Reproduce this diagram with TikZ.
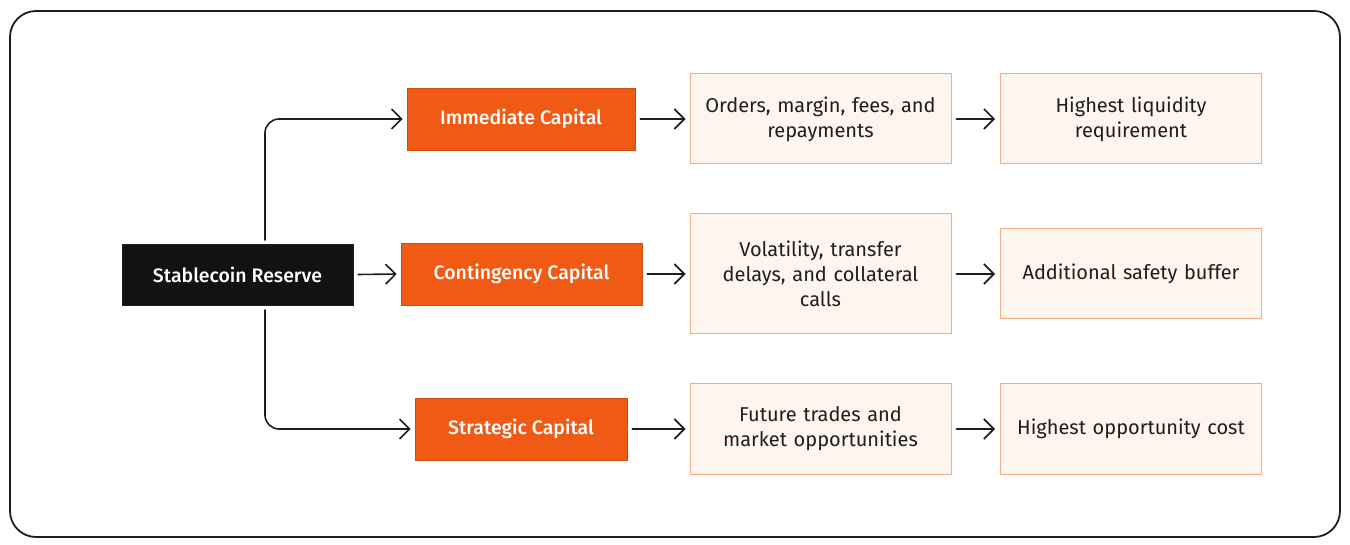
\documentclass[tikz,border=0pt]{standalone}
\usepackage{fontspec}
\setmainfont{Fira Sans}
\newfontfamily\medfont{Fira Sans Medium}
\usetikzlibrary{arrows.meta}
\definecolor{orng}{HTML}{F05A14}
\definecolor{ink}{HTML}{1E1E1E}
\definecolor{pale}{HTML}{FFF5EF}
\definecolor{paleline}{HTML}{F4AE85}
\definecolor{blk}{HTML}{121212}
\tikzset{
  rootbox/.style={draw=ink, fill=blk, text=white, minimum width=231pt, minimum height=61pt, font=\medfont\fontsize{19.5}{23}\selectfont, inner sep=0pt},
  capbox/.style={draw=orng!85!black, fill=orng, text=white, minimum height=62pt, font=\medfont\fontsize{19.5}{23}\selectfont, inner sep=0pt, line width=0.6pt},
  notebox/.style={draw=paleline, fill=pale, text=ink, minimum width=261pt, text width=250pt, align=center, font=\fontsize{20}{25}\selectfont, inner sep=0pt, line width=1pt},
  conn/.style={draw=ink, line width=1.6pt, line cap=round, -{Straight Barb[length=10pt,width=20pt,line width=1.6pt]}},
}
\begin{document}
\begin{tikzpicture}[x=1pt,y=-1pt]
\useasboundingbox (0,0) rectangle (1350,545);
\draw[ink, line width=1.8pt, rounded corners=26pt] (10,11) rectangle (1340,537);

\node[rootbox] (root) at (237.5,274.5) {Stablecoin Reserve};
\node[capbox, minimum width=228pt] (imm) at (521,119) {Immediate Capital};
\node[capbox, minimum width=241pt] (con) at (521.5,274) {Contingency Capital};
\node[capbox, minimum width=212pt] (str) at (521,429) {Strategic Capital};

\node[notebox, minimum height=90pt] (n1) at (820.5,119) {Orders, margin, fees, and\\repayments};
\node[notebox, minimum height=120pt] (n2) at (820.5,274) {Volatility, transfer\\delays, and collateral\\calls};
\node[notebox, minimum height=90pt] (n3) at (820.5,429) {Future trades and\\market opportunities};

\node[notebox, minimum height=90pt] (m1) at (1131,119) {Highest liquidity\\requirement};
\node[notebox, minimum height=90pt] (m2) at (1131,274) {Additional safety buffer};
\node[notebox, minimum height=90pt] (m3) at (1131,429) {Highest opportunity cost};

\coordinate (rt) at (265,240);
\coordinate (rb) at (265,310);
\draw[conn, rounded corners=14pt] (rt) |- ([xshift=-4pt]imm.west);
\draw[conn, rounded corners=14pt] (rb) |- ([xshift=-4pt]str.west);
\draw[conn] ([xshift=5pt]root.east) -- ([xshift=-4pt]con.west);

\draw[conn] ([xshift=5pt]imm.east) -- ([xshift=-4pt]n1.west);
\draw[conn] ([xshift=5pt]con.east) -- ([xshift=-4pt]n2.west);
\draw[conn] ([xshift=5pt]str.east) -- ([xshift=-4pt]n3.west);

\draw[conn] ([xshift=5pt]n1.east) -- ([xshift=-5pt]m1.west);
\draw[conn] ([xshift=5pt]n2.east) -- ([xshift=-5pt]m2.west);
\draw[conn] ([xshift=5pt]n3.east) -- ([xshift=-5pt]m3.west);
\end{tikzpicture}
\end{document}
